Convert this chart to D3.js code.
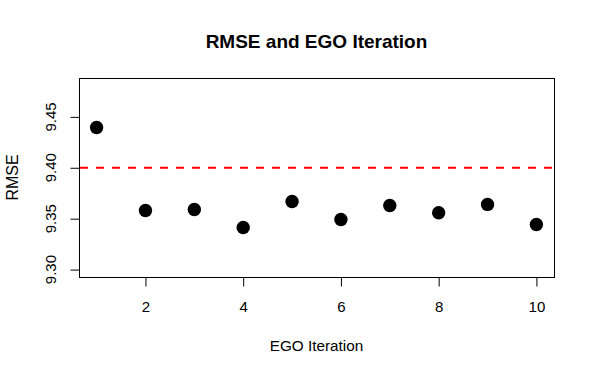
<!DOCTYPE html>
<html><head><meta charset="utf-8">
<script src="https://cdn.jsdelivr.net/npm/d3@7"></script>
<style>body{margin:0;background:#fff}</style>
</head><body>
<svg id="c" width="595" height="375"></svg>
<script>
const iterations = [1,2,3,4,5,6,7,8,9,10];
const rmse = [9.4396,9.3580,9.3590,9.3414,9.3669,9.3492,9.3630,9.3558,9.3640,9.3443];
const xTicks = [2,4,6,8,10];
const yTicks = [9.30,9.35,9.40,9.45];
const refLine = 9.40;
const titleText = "RMSE and EGO Iteration";
const xLabel = "EGO Iteration";
const yLabel = "RMSE";

const svg = d3.select("#c");
const L=79,R=554,T=78,B=277;
const font = "Liberation Sans, Arial, sans-serif";
const x = d3.scaleLinear().domain([0.64,10.36]).range([L,R]);
const y = d3.scaleLinear().domain([9.2927,9.4882]).range([B,T]);

svg.append("rect").attr("x",L+0.5).attr("y",T+0.5).attr("width",R-L).attr("height",B-T)
  .attr("fill","none").attr("stroke","#000").attr("stroke-width",1);

const xa = svg.append("g").attr("transform",`translate(0,${B+0.5})`)
  .call(d3.axisBottom(x).tickValues(xTicks).tickSize(9).tickPadding(14.5).tickFormat(d3.format("d")));
xa.select(".domain").remove();
xa.selectAll("text").attr("font-family",font).attr("font-size",15).attr("fill","#000");
xa.selectAll("line").attr("stroke","#000");

const ya = svg.append("g").attr("transform",`translate(${L+0.5},0)`)
  .call(d3.axisLeft(y).tickValues(yTicks).tickSize(9).tickPadding(0).tickFormat(d3.format(".2f")));
ya.select(".domain").remove();
ya.selectAll("line").attr("stroke","#000");
ya.selectAll("text").attr("font-family",font).attr("font-size",15).attr("fill","#000")
  .attr("x",0).attr("dy",null).attr("text-anchor","middle").attr("dominant-baseline","central")
  .attr("transform",function(d){return `translate(${50-L},${y(d)}) rotate(-90)`;})
  .attr("y",0);
ya.selectAll(".tick").attr("transform",null);
ya.selectAll(".tick line").attr("y1",d=>y(d)+0.5).attr("y2",d=>y(d)+0.5);

svg.append("line").attr("x1",L+1).attr("x2",R).attr("y1",y(refLine)).attr("y2",y(refLine))
  .attr("stroke","#ff0000").attr("stroke-width",2).attr("stroke-dasharray","8,8");

svg.append("g").selectAll("circle").data(iterations).join("circle")
  .attr("cx",(d)=>x(d)).attr("cy",(d,i)=>y(rmse[i])).attr("r",6.7).attr("fill","#000");

svg.append("text").attr("x",(L+R)/2).attr("y",47.5).attr("text-anchor","middle")
  .attr("font-family",font).attr("font-weight","bold").attr("font-size",19).text(titleText);
svg.append("text").attr("x",(L+R)/2).attr("y",351).attr("text-anchor","middle")
  .attr("font-family",font).attr("font-size",15.3).text(xLabel);
svg.append("text").attr("transform",`translate(18,${(T+B)/2}) rotate(-90)`).attr("text-anchor","middle")
  .attr("font-family",font).attr("font-size",16).text(yLabel);
</script>
</body></html>
